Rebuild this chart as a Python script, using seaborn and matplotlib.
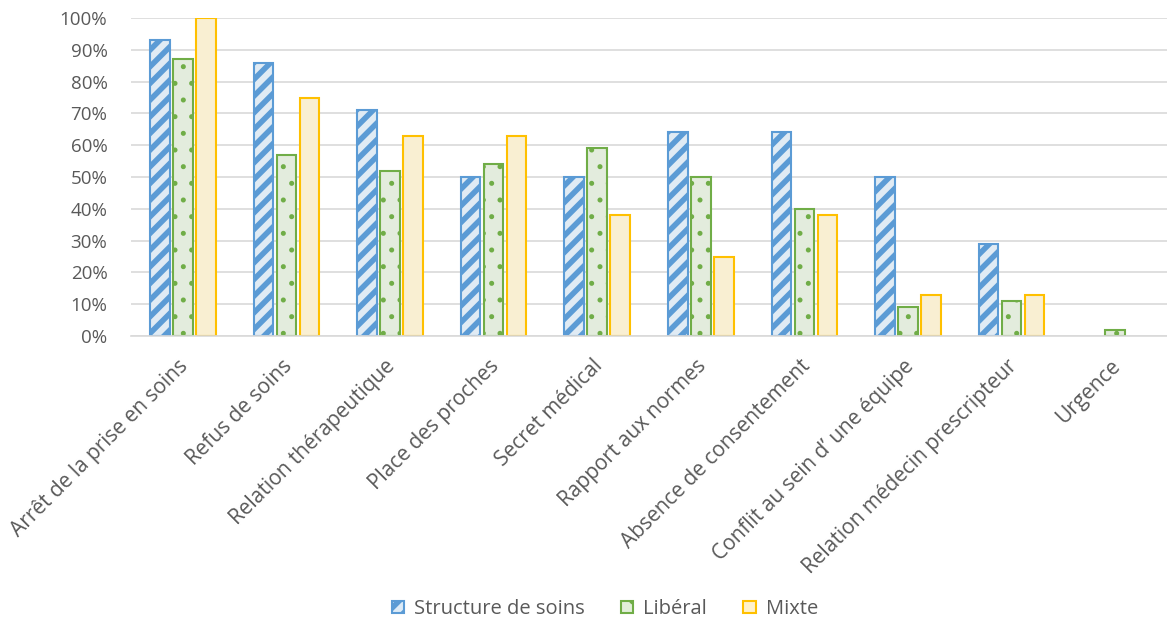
import numpy as np
import pandas as pd
import matplotlib
matplotlib.use("Agg")
import matplotlib.pyplot as plt
import matplotlib.transforms as mtrans
import seaborn as sns
from matplotlib.ticker import PercentFormatter
from matplotlib.patches import Patch

categories = ["Arrêt de la prise en soins", "Refus de soins", "Relation thérapeutique",
              "Place des proches", "Secret médical", "Rapport aux normes",
              "Absence de consentement", "Conflit au sein d\u2019 une équipe",
              "Relation médecin prescripteur", "Urgence"]
structure = [93, 86, 71, 50, 50, 64, 64, 50, 29, 0]
liberal = [87, 57, 52, 54, 59, 50, 40, 9, 11, 2]
mixte = [100, 75, 63, 63, 38, 25, 38, 13, 13, 0]
series = ["Structure de soins", "Libéral", "Mixte"]

df = pd.DataFrame({
    "cat": categories * 3,
    "serie": [s for s in series for _ in categories],
    "val": [v / 100 for v in structure + liberal + mixte],
})

sns.set_theme(style="white")
plt.rcParams['font.family'] = ['Open Sans', 'DejaVu Sans']
plt.rcParams['hatch.linewidth'] = 4.0

edge = {"Structure de soins": "#5B9BD5", "Libéral": "#70AD47", "Mixte": "#FFC000"}
fill = {"Structure de soins": "#DDEBF7", "Libéral": "#E2EFDA", "Mixte": "#FFF2CC"}
hatch = {"Structure de soins": "//", "Libéral": ".", "Mixte": ""}
txt = "#595959"

fig = plt.figure(figsize=(11.67, 6.25), dpi=100)
ax = fig.add_axes([131 / 1167, 1 - 336 / 625, 1036 / 1167, 318 / 625])

sns.barplot(data=df, x="cat", y="val", hue="serie", hue_order=series,
            palette=fill, width=0.667, gap=0.15, legend=False, ax=ax)

for container, s in zip(ax.containers, series):
    for bar, v in zip(container, df[df.serie == s].val):
        bar.set_edgecolor(edge[s])
        bar.set_linewidth(1.5)
        bar.set_hatch(hatch[s])
        if s == "Libéral" and hasattr(bar, "set_hatch_linewidth"):
            bar.set_hatch_linewidth(1.2)
        if v == 0:
            bar.set_visible(False)

ax.set_ylim(0, 1.0)
ax.set_yticks(np.arange(0, 1.01, 0.1))
ax.yaxis.set_major_formatter(PercentFormatter(1.0, decimals=0))
ax.grid(axis="y", color="#D9D9D9", linewidth=1.2)
ax.set_axisbelow(True)
for sp in ["top", "right", "left"]:
    ax.spines[sp].set_visible(False)
ax.spines["bottom"].set_color("#D9D9D9")
ax.spines["bottom"].set_linewidth(1.2)
ax.set_xlim(-0.5, len(categories) - 0.5)
ax.set_xlabel("")
ax.set_ylabel("")
ax.tick_params(axis="both", length=0, colors=txt)
ax.tick_params(axis="y", pad=17, labelsize=13.5)
ax.set_xticks(range(len(categories)))
ax.set_xticklabels(categories, rotation=45, ha="right", rotation_mode="anchor")
ax.tick_params(axis="x", pad=14, labelsize=15)
shift = mtrans.ScaledTranslation(-5 / 100, 0, fig.dpi_scale_trans)
for lab in ax.get_xticklabels():
    lab.set_transform(lab.get_transform() + shift)

handles = [Patch(facecolor=fill[s], edgecolor=edge[s], hatch=hatch[s], linewidth=1.5) for s in series]
fig.legend(handles, series, loc="center", bbox_to_anchor=(605 / 1167, 1 - 609 / 625), ncol=3, frameon=False,
           fontsize=14.5, handlelength=0.6, handleheight=0.6, handletextpad=0.5, columnspacing=1.8,
           labelcolor=txt)

fig.savefig("out.png", dpi=100)
